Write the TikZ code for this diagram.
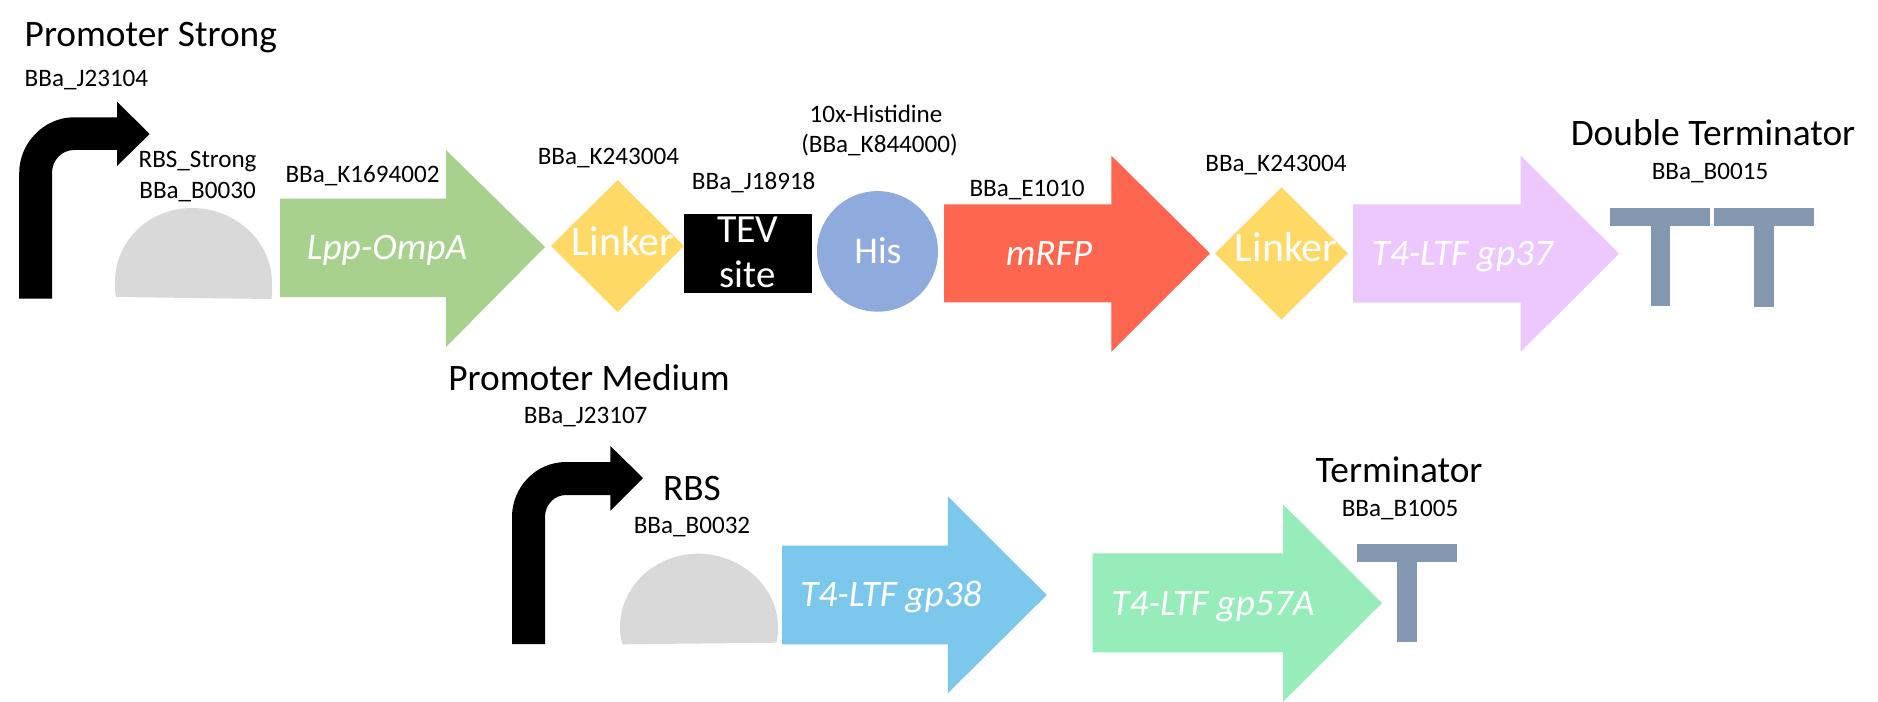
\documentclass[tikz,border=0pt]{standalone}
\usepackage{fontspec}
\setmainfont{Carlito}
\definecolor{cGreen}{HTML}{A9D18E}
\definecolor{cYellow}{HTML}{FFD966}
\definecolor{cHis}{HTML}{8FAADC}
\definecolor{cRed}{HTML}{FF664F}
\definecolor{cLilac}{HTML}{ECC8FF}
\definecolor{cTerm}{HTML}{8497B0}
\definecolor{cSky}{HTML}{7BC8EC}
\definecolor{cMint}{HTML}{96EDBA}
\definecolor{cDome}{HTML}{D9D9D9}
\tikzset{
  txt/.style={inner sep=0pt,outer sep=0pt,anchor=base},
  title/.style={txt,font=\fontsize{37.5}{37.5}\selectfont},
  part/.style={txt,font=\fontsize{25.2}{25.2}\selectfont},
  inword/.style={txt,text=white,font=\fontsize{42}{42}\selectfont},
  gene/.style={txt,text=white,font=\fontsize{37.5}{37.5}\selectfont\itshape}
}
\begin{document}
\begin{tikzpicture}[x=1bp,y=-1bp]
\useasboundingbox (0,0) rectangle (1878,702);
\fill[white] (0,0) rectangle (1878,702);
% bent promoter arrows
\fill[black] (19.2,298.7) -- (19.2,173) .. controls (19.2,143) and (44,117.3) .. (74,117.3) -- (117,117.3) -- (117,101.7) -- (149.7,134) -- (117,166) -- (117,150) -- (74,150) .. controls (62,150) and (52,160) .. (52,173) -- (52,298.7) -- cycle;
\fill[black] (512,644) -- (512,517) .. controls (512,487) and (536,462) .. (566,462) -- (610.4,462) -- (610.4,446) -- (643,478) -- (610.4,510.7) -- (610.4,495) -- (566,495) .. controls (554,495) and (545,505) .. (545,517) -- (545,644) -- cycle;
% RBS domes
\fill[cDome] (116,297) .. controls (115,292) and (115,287) .. (115,282) .. controls (115,241) and (149,208) .. (192,208) .. controls (235,208) and (272,241) .. (272,283) .. controls (272,289) and (272,294) .. (271.5,299) -- cycle;
\fill[cDome] (622.4,644.3) .. controls (620.5,638) and (620,632) .. (620,627) .. controls (620,587) and (655,553.7) .. (698,553.7) .. controls (741,553.7) and (778,587) .. (778,627) .. controls (778,632) and (777.5,638) .. (776.5,642.7) -- cycle;
% gene arrows
\fill[cGreen] (280,198.7) -- (446,198.7) -- (446,150) -- (545,247) -- (446,347) -- (446,297) -- (280,297) -- cycle;
\fill[cRed] (944,204.3) -- (1111.4,204.3) -- (1111.4,155.7) -- (1210,253.3) -- (1111.4,351.7) -- (1111.4,302.3) -- (944,302.3) -- cycle;
\fill[cLilac] (1353,204.3) -- (1520.7,204.3) -- (1520.7,155.7) -- (1619,253.7) -- (1520.7,351.7) -- (1520.7,302.7) -- (1353,302.7) -- cycle;
\fill[cSky] (782,545.7) -- (947.8,545.7) -- (947.8,496.3) -- (1046.8,595) -- (947.8,693.3) -- (947.8,644.3) -- (782,644.3) -- cycle;
\fill[cMint] (1092.7,553.3) -- (1283,553.3) -- (1283,504.3) -- (1382,603) -- (1283,701.7) -- (1283,652.3) -- (1092.7,652.3) -- cycle;
% linkers
\fill[cYellow] (551,246) -- (617.6,180) -- (684,246) -- (617.6,312) -- cycle;
\fill[cYellow] (1215,253.3) -- (1281.5,187.3) -- (1348,253.3) -- (1281.5,319.7) -- cycle;
% TEV site and His tag
\fill[black] (684,214) rectangle (812,292.7);
\fill[cHis] (877.5,251.4) ellipse [x radius=60.5,y radius=60.3];
% terminators
\fill[cTerm] (1610,208) rectangle (1710,226);
\fill[cTerm] (1651,226) rectangle (1670,306);
\fill[cTerm] (1714,208) rectangle (1814,226);
\fill[cTerm] (1754,226) rectangle (1774,307);
\fill[cTerm] (1357,544) rectangle (1457,562);
\fill[cTerm] (1397,562) rectangle (1417,642);
% labels
\node[title,anchor=base west] (tPS) at (24.7,46.7) {Promoter Strong};
\node[part,anchor=base west] (pJ104) at (24.7,86.7) {BBa\_J23104};
\node[part] (pRBSs) at (197.6,168) {RBS\_Strong};
\node[part] (pB30) at (197.6,198) {BBa\_B0030};
\node[part] (pK169) at (362.5,183) {BBa\_K1694002};
\node[part] (pK243a) at (608.4,165) {BBa\_K243004};
\node[gene] (gLpp) at (387,259) {Lpp-OmpA};
\node[inword] (wL1) at (623,255) {Linker};
\node[inword,font=\fontsize{40}{40}\selectfont] (wTEV) at (747.8,242.3) {TEV};
\node[inword,font=\fontsize{39}{39}\selectfont] (wSite) at (747.8,287) {site};
\node[inword,font=\fontsize{38}{38}\selectfont] (wHis) at (878,263) {His};
\node[part] (pJ189) at (753.7,189) {BBa\_J18918};
\node[part] (p10x) at (876,122.7) {10x-Histidine};
\node[part] (pK844) at (879.5,152.7) {(BBa\_K844000)};
\node[part] (pE10) at (1027,196) {BBa\_E1010};
\node[gene] (gRFP) at (1049,265) {mRFP};
\node[part] (pK243b) at (1276,171.7) {BBa\_K243004};
\node[inword] (wL2) at (1286,261.7) {Linker};
\node[gene] (g37) at (1462.4,265) {T4-LTF gp37};
\node[title] (tDT) at (1713,145.7) {Double Terminator};
\node[part] (pB15) at (1710,179.3) {BBa\_B0015};
\node[title] (tPM) at (589,390.7) {Promoter Medium};
\node[part] (pJ107) at (585.7,423) {BBa\_J23107};
\node[title] (tRBS) at (692,500) {RBS};
\node[part] (pB32) at (692,533) {BBa\_B0032};
\node[gene] (g38) at (891,606.7) {T4-LTF gp38};
\node[gene] (g57) at (1213,615.7) {T4-LTF gp57A};
\node[title] (tT) at (1399,482) {Terminator};
\node[part] (pB1005) at (1400,516) {BBa\_B1005};
\end{tikzpicture}
\end{document}
